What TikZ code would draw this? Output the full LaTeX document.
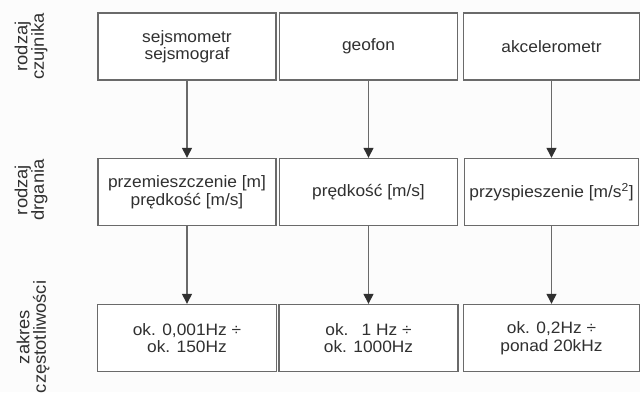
\documentclass[tikz,border=0pt]{standalone}
\usepackage{fontspec}
\setmainfont[FakeStretch=1.05]{Liberation Sans}
\usetikzlibrary{arrows.meta}
\definecolor{txt}{HTML}{303030}
\definecolor{frame}{HTML}{6A6A6A}
\definecolor{bg}{HTML}{FCFCFC}
\tikzset{
  box/.style={draw=frame, line width=1.4bp, fill=white, text=txt, align=center,
    minimum height=67bp, inner sep=0pt,
    font=\fontsize{16.5bp}{17.5bp}\selectfont},
  rowlabel/.style={rotate=90, text=txt, align=center, inner sep=0pt,
    font=\fontsize{17.5bp}{16.5bp}\selectfont},
  conn/.style={draw=frame, line width=1.3bp, -{Triangle[length=10bp,width=10bp,fill=txt,color=txt]}}
}
\begin{document}
\begin{tikzpicture}[x=1bp,y=-1bp]
\fill[bg] (0,0) rectangle (640,392);
\useasboundingbox (0,0) rectangle (640,392);
% row labels
\node[rowlabel] (l1) at (31,46.5) {rodzaj\\czujnika};
\node[rowlabel] (l2) at (31,190) {rodzaj\\drgania};
\node[rowlabel] (l3) at (33,337) {zakres\\częstotliwości};
% row 1
\node[box, minimum width=178bp] (a1) at (187,46.5) {sejsmometr\\sejsmograf};
\node[box, minimum width=178bp] (a2) at (368.5,46.5) {geofon};
\node[box, minimum width=176bp] (a3) at (551.5,46.5) {akcelerometr};
% row 2
\node[box, minimum width=178bp] (b1) at (187,192) {przemieszczenie [m]\\prędkość [m/s]};
\node[box, minimum width=178bp] (b2) at (368.5,192) {prędkość [m/s]};
\node[box, minimum width=174bp] (b3) at (551.5,192) {przyspieszenie [m/s\textsuperscript{2}]};
% row 3
\node[box, minimum width=179bp] (c1) at (187,338) {ok. 0,001Hz ÷\\ok. 150Hz};
\node[box, minimum width=179bp] (c2) at (368.5,338) {ok.\hspace{0.8em}1 Hz ÷\\ok. 1000Hz};
\node[box, minimum width=176bp] (c3) at (551.5,338) {ok. 0,2Hz ÷\\ponad 20kHz};
% connectors
\draw[conn] (a1.south) -- (b1.north);
\draw[conn] (a2.south) -- (b2.north);
\draw[conn] (a3.south) -- (b3.north);
\draw[conn] (b1.south) -- (c1.north);
\draw[conn] (b2.south) -- (c2.north);
\draw[conn] (b3.south) -- (c3.north);
\end{tikzpicture}
\end{document}
